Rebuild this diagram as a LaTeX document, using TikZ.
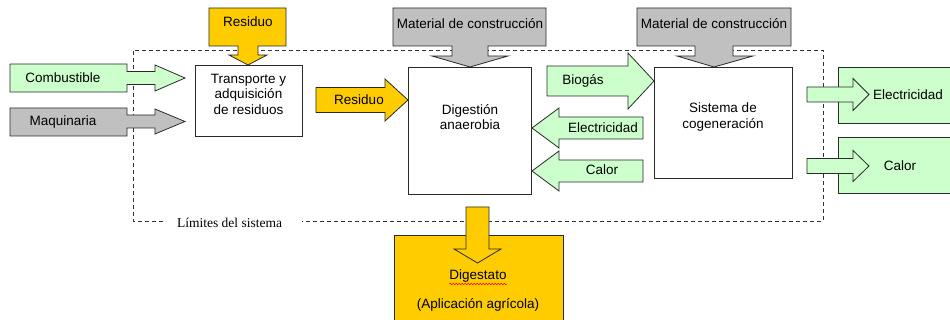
\documentclass[tikz,border=0pt]{standalone}
\usepackage{fontspec}
\setmainfont{Liberation Sans}
\newfontfamily\timesfont{Liberation Serif}
\usetikzlibrary{decorations.pathmorphing,calc}
\definecolor{yel}{HTML}{FFCC00}
\definecolor{grn}{HTML}{CCFFCC}
\definecolor{gry}{HTML}{C0C0C0}
\definecolor{edge}{HTML}{2A2A2A}
\begin{document}
\begin{tikzpicture}[x=1pt,y=-1pt,
  outl/.style={draw=edge, line width=0.8pt, line join=miter},
  yshape/.style={outl, fill=yel},
  gshape/.style={outl, fill=grn},
  kshape/.style={outl, fill=gry},
  box/.style={draw=edge, line width=0.8pt, anchor=north west, inner sep=0pt},
  lbl/.style={font=\fontsize{13.5}{15.5}\selectfont, inner sep=0pt, align=center},
  boundary/.style={draw=black!80, line width=0.8pt, dash pattern=on 4pt off 3pt}]
\useasboundingbox[fill=white] (0,0) rectangle (950,320);

% system boundary
\coordinate (b1) at (163,221);
\coordinate (b2) at (133,221);
\coordinate (b3) at (133,50);
\coordinate (b4) at (823,50);
\coordinate (b5) at (823,221);
\coordinate (b6) at (302,221);
\draw[boundary] (b1) -- (b2) -- (b3) -- (b4) -- (b5) -- (b6);
\node[font=\timesfont\fontsize{13.5}{15}\selectfont, inner sep=0pt] (lim) at (229.5,223) {Límites del sistema};

% process boxes
\node[box, fill=white, minimum width=107pt, minimum height=71pt] (trans) at (195,65) {};
\node[box, fill=white, minimum width=123pt, minimum height=127pt] (dig) at (408,67) {};
\node[box, fill=white, minimum width=138pt, minimum height=111pt] (cog) at (654,67) {};
\node[box, fill=grn, minimum width=120pt, minimum height=56pt] (elbox) at (838,67) {};
\node[box, fill=grn, minimum width=120pt, minimum height=56pt] (calbox) at (838,137) {};
\node[box, fill=yel, minimum width=169pt, minimum height=95pt] (digbox) at (394,235) {};

% callouts on top
\draw[yshape] (209,8) -- (286,8) -- (286,46) -- (258,46) -- (258,55) -- (267,55) -- (248,65) -- (229,55) -- (238,55) -- (238,46) -- (209,46) -- cycle;
\draw[kshape] (393,8) -- (546,8) -- (546,46) -- (488,46) -- (488,56) -- (508,56) -- (470,67) -- (432,56) -- (452,56) -- (452,46) -- (393,46) -- cycle;
\draw[kshape] (637,8) -- (791,8) -- (791,46) -- (733,46) -- (733,56) -- (753,56) -- (714,67) -- (677,56) -- (695,56) -- (695,46) -- (637,46) -- cycle;

% callouts on the left
\draw[gshape] (10,64) -- (127,64) -- (127,71.5) -- (155,71.5) -- (155,65) -- (185,78) -- (155,91) -- (155,84.5) -- (127,84.5) -- (127,92) -- (10,92) -- cycle;
\draw[kshape] (10,108) -- (127,108) -- (127,115) -- (155,115) -- (155,109) -- (185,121.5) -- (155,134) -- (155,128) -- (127,128) -- (127,136) -- (10,136) -- cycle;

% block arrows
\draw[yshape] (316,87.5) -- (385,87.5) -- (385,79) -- (408,100) -- (385,121) -- (385,112.5) -- (316,112.5) -- cycle;
\draw[gshape] (547,66) -- (628,66) -- (628,53) -- (654,81) -- (628,109) -- (628,96) -- (547,96) -- cycle;
\draw[gshape] (643,117) -- (559,117) -- (559,108) -- (532,128) -- (559,148) -- (559,139) -- (643,139) -- cycle;
\draw[gshape] (643,160) -- (559,160) -- (559,151) -- (532,171) -- (559,191) -- (559,182) -- (643,182) -- cycle;
\draw[gshape] (807,87) -- (853,87) -- (853,78.5) -- (869,94.5) -- (853,110.5) -- (853,102) -- (807,102) -- cycle;
\draw[gshape] (807,158.5) -- (853,158.5) -- (853,150.5) -- (869,166) -- (853,181.5) -- (853,173.5) -- (807,173.5) -- cycle;
\draw[yshape] (466,207) -- (489,207) -- (489,249) -- (501,249) -- (477.5,263) -- (454,249) -- (466,249) -- cycle;

% labels
\node[lbl] (tres) at (248,22) {Residuo};
\node[lbl] (tmat1) at (470,24) {Material de construcción};
\node[lbl] (tmat2) at (714,24) {Material de construcción};
\node[lbl] (tcomb) at (63,78) {Combustible};
\node[lbl] (tmaq) at (63,122) {Maquinaria};
\node[lbl] (ttrans) at (248.5,94) {Transporte y\\adquisición\\de residuos};
\node[lbl] (tres2) at (359,100) {Residuo};
\node[lbl] (tdig) at (470,117) {Digestión\\anaerobia};
\node[lbl] (tbio) at (583,81) {Biogás};
\node[lbl] (telec) at (603,128) {Electricidad};
\node[lbl] (tcal) at (602,170) {Calor};
\node[lbl] (tcog) at (723,117) {Sistema de\\cogeneración};
\node[lbl] (telec2) at (908,94.5) {Electricidad};
\node[lbl] (tcal2) at (900,166) {Calor};
\node[lbl] (tdgst) at (478,276) {Digestato};
\node[lbl] (tapl) at (478,305) {(Aplicación agrícola)};
\coordinate (sq1) at ($(tdgst.south west)+(0,1.5)$);
\coordinate (sq2) at ($(tdgst.south east)+(0,1.5)$);
\draw[red, line width=0.5pt, decorate, decoration={snake, amplitude=0.7pt, segment length=3pt}] (sq1) -- (sq2);
\end{tikzpicture}
\end{document}
